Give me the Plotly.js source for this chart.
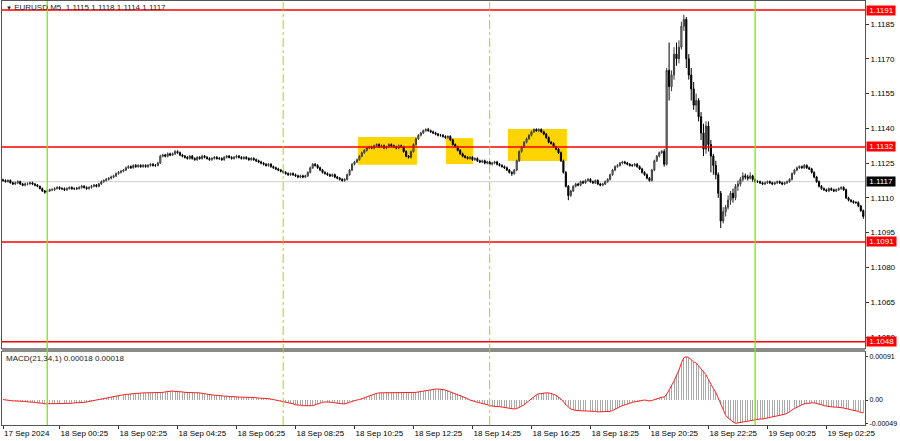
<!DOCTYPE html>
<html><head><meta charset="utf-8">
<script src="https://cdn.plot.ly/plotly-3.0.1.min.js"></script>
<style>html,body{margin:0;padding:0;background:#fff;}#chart{width:900px;height:441px;}</style>
</head><body><div id="chart"></div>
<script>
// ---- data (prices in pips above BASE) ----
const BASE = 1.1, PIP = 0.0001;
const SYMBOL = 'EURUSD,M5';
const HEADER_OHLC = [1.1115, 1.1118, 1.1114, 1.1117];
const MACD_NAME = 'MACD(21,34,1)';
const MACD_HEADER = [0.00018, 0.00018];
const T0 = Date.UTC(2024, 8, 17, 22, 30); // first bar
const STEP = 5 * 60 * 1000;               // M5

const open = [
117.8,117.5,117,117.5,116.5,116,116.5,117,116,115.5,116,116,
116.5,116,115.5,115,114,113,112.5,113,113.5,113.5,114,114.5,
114,114,113.5,114,114.5,114,114,114,114.5,115,114.5,114,
114.5,115,115.5,115,116,117,117.5,118,118.5,119,119.5,120.5,
121,121.5,122,123,123.5,123,124,123.5,124,123.5,124,123.5,
124,124.5,124,124,125,128,128.5,128,129,128.5,129,130,
129.5,128.5,128,127.5,127,128,127,126.5,127.5,127,128,127.5,
127,126.5,127,127.5,127,127,126.5,127.5,128,127.5,127,127.5,
128,127.5,127,127.5,127,126.5,127,126.5,126,125.5,125,124.5,
124,124.5,123.5,123,122.5,122,121.5,121,120.5,120,120.5,120,
119.5,119,119.5,119,119.5,121,123,124.5,124,123,122,121,
120.5,120,119.5,120,119,118.5,118,117.5,118,120,122,124.5,
125.5,126.5,128,129.5,130.5,131.5,132,131.5,132.5,133,132,132.5,
131.5,132,133,132.5,132,131.5,132.5,132,130,128,127.5,130,
133,135.5,137,138,139,139.5,139,138.5,138,137.5,137,137,
136.5,136,136.5,135,133,132,130.5,129,128,127.5,127,127.5,
126.5,127,126,125.5,126,125,125.5,124.5,125,125.5,124.5,124,
123.5,123,122,121,120.5,122,126,130,132,134,135.5,137,
138.5,139.5,139,139.5,138.5,137.5,136,134,133.5,132,131,129.5,
126,121,115,111,113,115,116,115.5,117,116.5,117.5,118,
117,116.5,117.5,116,115.5,116,117,118,120,122,123.5,124,
125,125.5,125,124.5,124,124,124.5,123.5,122.5,121,120,118.5,
117.5,122,126,128,129.5,130,124.5,165,158,163,172,170,
175,184,187,170,163,157,150,152,145,138,131,141,
133,128,124,120,112,100,104,106,109,112,110,115,
116,118,119.5,119,118.5,119.5,118,117,117,116.5,116,116.5,
117,116.5,116,116.5,117,116.5,116,116.5,117,118,120.5,122,
123,123.5,123,124,123,122.5,121,119,117,115,114,113.5,
113,114,113.5,113,113.5,114,114.5,113.5,110,109,108.5,108,
108,106.5,104.5];

const high = [
118.3,118,118,118,117,117,117.6,117.4,116.5,116.6,116.7,117,
117,116.4,116,115.3,114.5,113.4,113.6,114,114.2,114.6,115,115,
114.6,114.5,114.6,115,115,114.5,114.7,115,115.6,115.5,115,115,
115.6,116,116,116.5,117.6,118,118.6,119,119.6,120,121,121.6,
122,122.5,123.5,124,124,124.5,124.6,124.5,124.5,124.6,124.5,124.6,
125,125,124.6,125.6,128.6,129,129,129.6,129.5,129.6,130.6,130.5,
130,129,128.5,128,128.5,128.5,127.5,128,128,128.6,128.5,128,
127.5,127.5,128,128,127.6,127.5,128,128.5,128.5,128,128,128.6,
128.5,128,128,128,127.5,127.5,127.5,127,126.5,126,125.5,125,
125,125,124,123.5,123,122.5,122,121.5,121,121,121,120.5,
120,120,120,120,121.5,123.5,125,125,124.5,123.5,122.5,121.5,
121,120.5,120.5,120.5,119.5,119,118.5,118.5,120.5,122.5,125,126,
127,128.5,130,131,132,132.5,132.5,133,133.5,133.5,133,133,
132.5,133.5,133.5,133,132.5,133,133,132.5,130.5,128.5,130.5,133.5,
136,137.5,138.5,139.5,140,140.2,139.5,139,138.5,138,137.6,137.5,
137,137,137,135.5,133.5,132.5,131,129.5,128.5,128,128,128,
127.5,127.5,126.5,126.5,126.5,126,126,125.5,126,126,125,124.5,
124,123.5,122.5,121.5,122.5,126.5,130.5,132.5,134.5,136,137.5,139,
140,140,140,140,139,138,136.5,134.5,134,132.5,131.5,130,
126.5,121.5,115.5,113.5,115.5,116.5,116.5,117.5,117.5,118,118.5,118.5,
117.5,118,118,116.5,116.5,117.5,118.5,120.5,122.5,124,124.5,125.5,
126,126,125.5,125,124.6,125,125,124,123,121.5,120.5,119,
122.5,126.5,128.5,130,130.6,131,166,177,165,175,177,178,
186,189,188,172,166,160,155,153,147,142,143,143,
135,129,126,121,113,106,107,111,113,114,116,117.5,
119,121,120.5,120,121,120,118.5,117.6,117.5,117,117,117.5,
117.5,117,117,117.5,117.5,117,117,117.5,118.5,121,122.5,123.5,
124,124,124.6,124.5,123.5,123,121.5,119.5,117.5,115.5,114.5,114,
114.5,114.5,114,114,114.5,115,115,114,110.5,109.5,109,108.6,
108.5,107,105];

const low = [
117,116.6,116.6,116.2,115.6,115.5,116,115.6,115,115,115.4,115.7,
115.5,115,114.6,113.7,112.6,111.8,112,112.6,113,113,113.6,113.5,
113.4,113,113,113.6,113.5,113.4,113.5,113.6,114,114,113.5,113.6,
114,114.6,114.5,114.6,115.6,116.5,117,117.5,118,118.5,119,120,
120.5,121,121.6,122.5,122.5,122.6,123,123,123,123,123,123,
123.5,123.5,123.4,123.6,124.6,127.5,127.5,127.5,128,128,128.5,129,
128,127.5,127,126.5,126.5,126.5,126,126,126.5,126.5,127,126.5,
126,126,126.5,126.5,126.4,126,126,127,127,126.5,126.5,127,
127,126.5,126.5,126.5,126,126,126,125.5,125,124.5,124,123.5,
123.5,123,122.5,122,121.5,121,120.5,120,119.5,119.5,119.5,119,
118.5,118.5,118.5,118.5,119,120.5,122.5,123.5,122.5,121.5,120.5,120,
119.5,119,119,118.5,118,117.5,117,117,117.5,119.5,121.5,124,
125,126,127.5,129,130,131,131,131,132,131.5,131.5,131,
131,131.5,132,131.5,131,131,131.5,129.5,127.5,127,127,129.5,
132.5,135,136.5,137.5,138.5,138.5,138,137.5,137,136.5,136.4,136,
135.5,135.5,134.5,132.5,131.5,130,128.5,127.5,127,126.5,126.5,126,
126,125.5,125,125,124.5,124.5,124,124,124.5,124,123.5,123,
122.5,121.5,120.5,119.5,120,121.5,125.5,129.5,131.5,133.5,135,136.5,
138,138.5,138.5,138,137,135.5,133.5,133,131.5,130.5,129,125.5,
120.5,114.5,109,110.5,112.5,114.5,115,115,116,116,117,116.5,
116,116,115.5,115,115,115.5,116.5,117.5,119.5,121.5,123,123.5,
124.5,124.5,124,123.5,123.4,123.5,123,122,120.5,119.5,118,117,
117,121.5,125.5,127.5,129,123.5,124,152,156,161,167,168,
174,182,166,161,152,148,147,143,135,128,129,130,
121,120,118,110,97,99,102,105,107,108,109,113,
115,117,118,117.5,118,117,116.5,116.4,116,115.5,115.5,116,
116,115.5,115.5,116,116,115.5,115.5,116,116.5,117.5,120,121.5,
122.5,122.5,122.5,122.5,122,120.5,118.5,116.5,114.5,113.5,113,112.5,
112.5,113,112.5,112.5,113,113.5,113,109.5,108.5,108,107.5,107.4,
106,104,101];

const close = [
117.5,117,117.5,116.5,116,116.5,117,116,115.5,116,116,116.5,
116,115.5,115,114,113,112.5,113,113.5,113.5,114,114.5,114,
114,113.5,114,114.5,114,114,114,114.5,115,114.5,114,114.5,
115,115.5,115,116,117,117.5,118,118.5,119,119.5,120.5,121,
121.5,122,123,123.5,123,124,123.5,124,123.5,124,123.5,124,
124.5,124,124,125,128,128.5,128,129,128.5,129,130,129.5,
128.5,128,127.5,127,128,127,126.5,127.5,127,128,127.5,127,
126.5,127,127.5,127,127,126.5,127.5,128,127.5,127,127.5,128,
127.5,127,127.5,127,126.5,127,126.5,126,125.5,125,124.5,124,
124.5,123.5,123,122.5,122,121.5,121,120.5,120,120.5,120,119.5,
119,119.5,119,119.5,121,123,124.5,124,123,122,121,120.5,
120,119.5,120,119,118.5,118,117.5,118,120,122,124.5,125.5,
126.5,128,129.5,130.5,131.5,132,131.5,132.5,133,132,132.5,131.5,
132,133,132.5,132,131.5,132.5,132,130,128,127.5,130,133,
135.5,137,138,139,139.5,139,138.5,138,137.5,137,137,136.5,
136,136.5,135,133,132,130.5,129,128,127.5,127,127.5,126.5,
127,126,125.5,126,125,125.5,124.5,125,125.5,124.5,124,123.5,
123,122,121,120.5,122,126,130,132,134,135.5,137,138.5,
139.5,139,139.5,138.5,137.5,136,134,133.5,132,131,129.5,126,
121,115,111,113,115,116,115.5,117,116.5,117.5,118,117,
116.5,117.5,116,115.5,116,117,118,120,122,123.5,124,125,
125.5,125,124.5,124,124,124.5,123.5,122.5,121,120,118.5,117.5,
122,126,128,129.5,130,124.5,165,158,163,172,170,175,
184,187,170,163,157,150,152,145,138,131,141,133,
128,124,120,112,100,104,106,109,112,110,115,116,
118,119.5,119,118.5,119.5,118,117,117,116.5,116,116.5,117,
116.5,116,116.5,117,116.5,116,116.5,117,118,120.5,122,123,
123.5,123,124,123,122.5,121,119,117,115,114,113.5,113,
114,113.5,113,113.5,114,114.5,113.5,110,109,108.5,108,108,
106.5,104.5,102];

// MACD main (= signal, period 1), in units of 0.00001
const macd = [
1,0,-1,-1,-2,-2,-2,-2,-3,-3,-4,-4,
-5,-5,-6,-6,-7,-8,-8,-8,-8,-8,-8,-7,
-7,-7,-7,-7,-7,-6,-6,-6,-5,-5,-4,-3,
-2,-1,0,2,3,4,5,6,7,8,9,10,
10,11,12,12,13,13,14,14,15,15,15,15,
15,15,15,15,15,16,17,18,19,19,18,18,
17,17,16,16,16,16,15,15,15,14,13,12,
12,11,10,10,9,9,8,8,7,7,7,6,
6,6,6,5,5,5,5,5,4,4,4,4,
3,2,1,0,-1,-3,-4,-5,-6,-7,-8,-10,
-10,-11,-12,-12,-13,-13,-12,-10,-8,-6,-5,-4,
-4,-4,-5,-6,-7,-8,-8,-8,-7,-5,-3,-1,
0,1,3,5,6,8,10,12,14,15,15,15,
16,16,16,16,16,16,16,15,15,15,15,16,
16,17,18,18,19,20,21,22,23,23,23,22,
21,19,17,15,13,11,10,8,5,3,0,-2,
-4,-5,-6,-7,-9,-10,-12,-13,-14,-14,-14,-15,
-15,-16,-17,-18,-19,-18,-16,-13,-10,-6,-2,3,
7,11,13,14,15,15,15,14,12,10,6,2,
-4,-10,-15,-19,-21,-22,-22,-23,-23,-23,-23,-23,
-24,-24,-25,-25,-25,-25,-24,-24,-22,-19,-16,-14,
-12,-10,-8,-6,-5,-4,-3,-2,-1,0,-1,-2,
-1,1,3,5,6,6,12,21,30,40,52,63,
78,89,91,89,85,80,78,72,66,60,53,43,
32,24,16,4,-8,-20,-32,-38,-43,-46,-49,-48,
-48,-47,-46,-45,-44,-43,-42,-41,-40,-40,-39,-38,
-37,-36,-35,-34,-33,-32,-30,-28,-24,-21,-18,-15,
-12,-10,-8,-7,-6,-6,-6,-7,-8,-10,-12,-13,
-14,-14,-15,-15,-15,-16,-17,-18,-19,-20,-21,-23,
-24,-26,-27];

const PRICE_TICKS = [1.1050,1.1065,1.1080,1.1095,1.1110,1.1125,1.1140,1.1155,1.1170,1.1185];
const MACD_TICKS = [0.00091, 0, -0.00049];
const MACD_TICK_TEXT = ['0.00091', '0.00', '-0.00049'];
const TIME_TICKS = ['2024-09-17 22:30','2024-09-18 00:25','2024-09-18 02:25','2024-09-18 04:25',
  '2024-09-18 06:25','2024-09-18 08:25','2024-09-18 10:25','2024-09-18 12:25','2024-09-18 14:25',
  '2024-09-18 16:25','2024-09-18 18:25','2024-09-18 20:25','2024-09-18 22:25','2024-09-19 00:25','2024-09-19 02:25'];
const TIME_LABELS = ['17 Sep 2024','18 Sep 00:25','18 Sep 02:25','18 Sep 04:25','18 Sep 06:25',
  '18 Sep 08:25','18 Sep 10:25','18 Sep 12:25','18 Sep 14:25','18 Sep 16:25','18 Sep 18:25',
  '18 Sep 20:25','18 Sep 22:25','19 Sep 00:25','19 Sep 02:25'];

const LEVELS = [1.1191, 1.1132, 1.1091, 1.1048];
const CURRENT = 1.1117;
const DAY_LINES = ['2024-09-18 00:00', '2024-09-19 00:00'];
const SESSION_LINES = ['2024-09-18 08:00', '2024-09-18 15:00'];
const ZONE_START = ['2024-09-18 10:32', '2024-09-18 13:31', '2024-09-18 15:37'];
const ZONE_END   = ['2024-09-18 12:32', '2024-09-18 14:26', '2024-09-18 17:37'];
const ZONE_HIGH  = [1.11363, 1.11358, 1.11397];
const ZONE_LOW   = [1.11243, 1.11246, 1.11259];

// ---- drawing ----
const FONT = "'Liberation Sans', Arial, sans-serif";
const W = 900, H = 441, L = 2, R = 865, T = 1, B = 425;
const pxX = p => (p - L) / (R - L);
const pxY = p => (B - p) / (B - T);
const toPrice = v => BASE + v * PIP;
const times = close.map((_, i) => T0 + i * STEP);

const candles = {
  type: 'candlestick', x: times,
  open: open.map(toPrice), high: high.map(toPrice), low: low.map(toPrice), close: close.map(toPrice),
  xaxis: 'x', yaxis: 'y', whiskerwidth: 0,
  increasing: {line: {color: '#3c3c3c', width: 1}, fillcolor: '#a8a8a8'},
  decreasing: {line: {color: '#000000', width: 1}, fillcolor: '#000000'},
  hoverinfo: 'skip', showlegend: false
};
const macdVals = macd.map(v => v * 0.00001);
const hist = {
  type: 'bar', x: times, y: macdVals, xaxis: 'x', yaxis: 'y2',
  width: STEP * 0.4, marker: {color: '#a9a9a9', line: {width: 0}},
  hoverinfo: 'skip', showlegend: false
};
const signal = {
  type: 'scatter', mode: 'lines', x: times, y: macdVals, xaxis: 'x', yaxis: 'y2',
  line: {color: '#ff2020', width: 1}, hoverinfo: 'skip', showlegend: false
};

const shapes = [];
ZONE_START.forEach((t, k) => shapes.push({type: 'rect', layer: 'below', xref: 'x', yref: 'y',
  x0: t, x1: ZONE_END[k], y0: ZONE_LOW[k], y1: ZONE_HIGH[k], fillcolor: '#ffd400', line: {width: 0}}));
shapes.push({type: 'line', layer: 'below', xref: 'paper', yref: 'y', x0: 0, x1: 1, y0: CURRENT, y1: CURRENT,
  line: {color: '#cfcfcf', width: 1}});
LEVELS.forEach(v => shapes.push({type: 'line', layer: 'above', xref: 'paper', yref: 'y', x0: 0, x1: 1,
  y0: v, y1: v, line: {color: '#ff0000', width: 1.5}}));
shapes.push({type: 'rect', layer: 'above', xref: 'paper', yref: 'paper', x0: 0, x1: 1,
  y0: pxY(352), y1: pxY(348), fillcolor: '#8a8a8a', line: {width: 0}});
DAY_LINES.forEach(t => shapes.push({type: 'line', layer: 'above', xref: 'x', yref: 'paper', x0: t, x1: t,
  y0: 0, y1: 1, line: {color: '#76ee00', width: 1.3}}));
SESSION_LINES.forEach(t => shapes.push({type: 'line', layer: 'above', xref: 'x', yref: 'paper', x0: t, x1: t,
  y0: 0, y1: 1, line: {color: '#9ee000', width: 1, dash: 'dashdot'}}));

const nb = '\u00a0';
const annotations = [];
LEVELS.forEach(v => annotations.push({xref: 'paper', yref: 'y', x: 1, y: v, xanchor: 'left', yanchor: 'middle',
  xshift: 1, text: nb + v.toFixed(4) + nb, showarrow: false, bgcolor: '#ff0000', borderpad: 0,
  font: {family: FONT, size: 8, color: '#ffffff'}}));
annotations.push({xref: 'paper', yref: 'y', x: 1, y: CURRENT, xanchor: 'left', yanchor: 'middle',
  xshift: 1, text: nb + CURRENT.toFixed(4) + nb, showarrow: false, bgcolor: '#000000', borderpad: 0,
  font: {family: FONT, size: 8, color: '#ffffff'}});
annotations.push({xref: 'paper', yref: 'paper', x: pxX(4), y: pxY(7), xanchor: 'left', yanchor: 'middle',
  showarrow: false, font: {family: FONT, size: 8, color: '#222'},
  text: '<span style="font-size:6px">▼</span> ' + SYMBOL + '  ' + HEADER_OHLC.map(v => v.toFixed(4)).join(' ')});
annotations.push({xref: 'paper', yref: 'paper', x: pxX(4), y: pxY(358), xanchor: 'left', yanchor: 'middle',
  showarrow: false, font: {family: FONT, size: 8, color: '#222'},
  text: MACD_NAME + ' ' + MACD_HEADER.map(v => v.toFixed(5)).join(' ')});

const axisFont = {family: FONT, size: 8, color: '#000'};
const layout = {
  width: W, height: H, margin: {l: L, r: W - R, t: T, b: H - B, pad: 0},
  paper_bgcolor: '#fff', plot_bgcolor: '#fff', showlegend: false, font: {family: FONT, size: 8},
  boxgap: 0.35,
  xaxis: {type: 'date', anchor: 'y2', range: [T0 - 0.41 * STEP, T0 + 350.7 * STEP],
    showgrid: false, zeroline: false, showline: true, mirror: 'all', linecolor: '#555', linewidth: 1,
    ticks: 'outside', ticklen: 3, tickcolor: '#333', tickvals: TIME_TICKS, ticktext: TIME_LABELS,
    ticklabelposition: 'outside right', tickfont: axisFont, rangeslider: {visible: false}, fixedrange: true},
  yaxis: {domain: [pxY(348), 1], side: 'right', range: [1.104526, 1.119492], showgrid: false, zeroline: false,
    showline: true, mirror: true, linecolor: '#555', linewidth: 1, ticks: 'outside', ticklen: 3, tickcolor: '#333',
    tickvals: PRICE_TICKS, tickformat: '.4f', tickfont: axisFont, fixedrange: true},
  yaxis2: {domain: [0, pxY(352)], side: 'right', range: [-0.000526, 0.00101], showgrid: false, zeroline: false,
    showline: true, mirror: true, linecolor: '#555', linewidth: 1, ticks: 'outside', ticklen: 2, tickcolor: '#333',
    tickvals: MACD_TICKS, ticktext: MACD_TICK_TEXT, tickfont: {family: FONT, size: 7, color: '#000'}, fixedrange: true},
  shapes: shapes, annotations: annotations, bargap: 0
};
Plotly.newPlot('chart', [candles, hist, signal], layout, {staticPlot: true, displayModeBar: false});
</script>
</body></html>
